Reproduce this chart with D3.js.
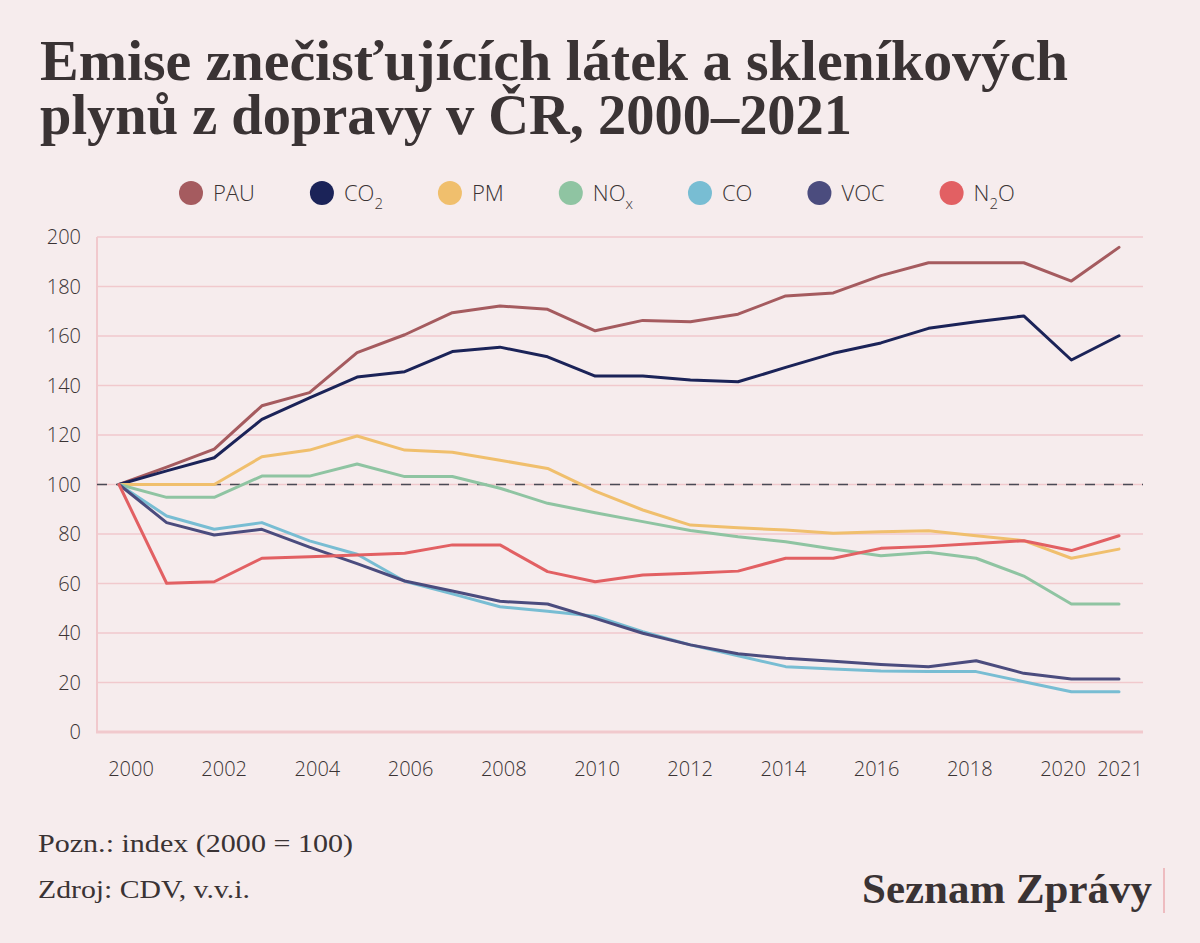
<!DOCTYPE html>
<html>
<head>
<meta charset="utf-8">
<script src="https://cdn.jsdelivr.net/npm/d3@7"></script>
<style>
  html, body { margin: 0; padding: 0; background: #f6eced; }
  svg { display: block; }
</style>
</head>
<body>
<svg id="chart" width="1200" height="943"></svg>
<script>
const years = [2000,2001,2002,2003,2004,2005,2006,2007,2008,2009,2010,2011,2012,2013,2014,2015,2016,2017,2018,2019,2020,2021];
const tickYears = [2000,2002,2004,2006,2008,2010,2012,2014,2016,2018,2020,2021];
const yTicks = [0,20,40,60,80,100,120,140,160,180,200];

const seriesNames = ["PAU","CO2","PM","NOx","CO","VOC","N2O"];
const seriesColors = ["#a55b5f","#1b2358","#f0bf6d","#8fc4a2","#78bdd3","#4b4c7e","#e26063"];

const PAU = [100,107,114.3,131.8,137.1,153.3,160.5,169.4,172.1,170.8,162.1,166.3,165.8,168.8,176.2,177.4,184.4,189.6,189.6,189.6,182.2,195.8];
const CO2 = [100,105.5,110.8,126.3,135,143.4,145.6,153.7,155.5,151.6,143.8,143.8,142.2,141.5,147.3,153,157.2,163.1,165.8,168.1,150.3,160.1];
const PM  = [100,100,100,111.2,113.9,119.6,113.9,113,109.8,106.5,97.3,89.7,83.6,82.5,81.6,80.3,80.9,81.3,79.3,77.3,70.2,73.9];
const NOx = [100,94.8,94.8,103.4,103.4,108.3,103.2,103.2,98.5,92.4,88.6,85,81.4,78.9,76.9,73.9,71.2,72.6,70.2,63,51.7,51.7];
const CO  = [100,87.3,81.9,84.6,77.2,71.8,60.9,55.8,50.6,48.8,46.8,40.5,35.2,30.8,26.4,25.5,24.6,24.4,24.4,20.3,16.3,16.3];
const VOC = [100,84.6,79.6,81.9,74.7,68,61,57,52.8,51.7,45.9,39.9,35.2,31.6,29.8,28.6,27.3,26.4,28.8,23.7,21.4,21.4];
const N2O = [100,60.1,60.7,70.2,70.8,71.5,72.2,75.6,75.6,64.8,60.7,63.4,64.1,65,70.2,70.2,74.2,75,76.2,77.3,73.3,79.3];

const seriesValues = [PAU, CO2, PM, NOx, CO, VOC, N2O];
const legendLabels = [["PAU",""],["CO","2"],["PM",""],["NO","x"],["CO",""],["VOC",""],["N","2","O"]];

const titleLines = ["Emise znečisťujících látek a skleníkových", "plynů z dopravy v ČR, 2000–2021"];
const noteText = "Pozn.: index (2000 = 100)";
const sourceText = "Zdroj: CDV, v.v.i.";
const brandText = "Seznam Zprávy";

const svg = d3.select("#chart");
const W = 1200, H = 943;
svg.append("rect").attr("width", W).attr("height", H).attr("fill", "#f6eced");

const plot = {left: 97, right: 1143, top: 237, bottom: 732};
const x = d3.scaleLinear().domain([2000, 2021]).range([119, 1119]);
const xLabel = d3.scaleLinear().domain([2000, 2020]).range([131, 1063]);
const y = d3.scaleLinear().domain([0, 200]).range([plot.bottom, plot.top]);

// Title (one text element, two lines)
const titleWidths = [1028, 812];
const title = svg.append("text")
  .attr("font-family", "'Liberation Serif', 'DejaVu Serif', serif")
  .attr("font-weight", 700)
  .attr("font-size", 57)
  .attr("fill", "#3a3334");
titleLines.forEach((t, i) => {
  title.append("tspan")
    .attr("x", 40).attr("y", 80 + i * 54)
    .attr("textLength", titleWidths[i])
    .attr("lengthAdjust", "spacingAndGlyphs")
    .text(t);
});

// Legend
const legend = svg.append("g").attr("font-family", "'Open Sans', 'Noto Sans', sans-serif")
  .attr("font-size", 22).attr("fill", "#3a3334");
let lx = 179;
const ly = 193;
seriesNames.forEach((name, i) => {
  const g = legend.append("g");
  g.append("circle").attr("cx", lx + 12).attr("cy", ly).attr("r", 12).attr("fill", seriesColors[i]);
  const txt = g.append("text").attr("x", lx + 34).attr("y", ly + 8).attr("font-weight", 300);
  const parts = legendLabels[i];
  txt.append("tspan").text(parts[0]);
  if (parts[1]) {
    txt.append("tspan").attr("font-size", 15).attr("dy", 8).text(parts[1]);
  }
  if (parts[2]) {
    txt.append("tspan").attr("dy", -8).text(parts[2]);
  }
  const w = txt.node().getComputedTextLength();
  lx = lx + 34 + w + 55;
});

// Gridlines
const grid = svg.append("g");
grid.selectAll("line").data(yTicks.filter(v => v > 0)).join("line")
  .attr("x1", plot.left).attr("x2", plot.right)
  .attr("y1", d => y(d)).attr("y2", d => y(d))
  .attr("stroke", "#f1c9cd").attr("stroke-width", 1.5);

// Axis lines
svg.append("line").attr("x1", plot.left).attr("x2", plot.left)
  .attr("y1", plot.top).attr("y2", plot.bottom)
  .attr("stroke", "#f1c9cd").attr("stroke-width", 2);
svg.append("line").attr("x1", plot.left - 1).attr("x2", plot.right)
  .attr("y1", plot.bottom).attr("y2", plot.bottom)
  .attr("stroke", "#f1c9cd").attr("stroke-width", 3);

// Y tick labels
svg.append("g").selectAll("text").data(yTicks).join("text")
  .attr("x", 81).attr("y", d => y(d) + 7)
  .attr("text-anchor", "end")
  .attr("font-family", "'Open Sans', 'Noto Sans', sans-serif")
  .attr("font-weight", 300)
  .attr("font-size", 20).attr("fill", "#3a3334")
  .text(d => d);

// X tick labels
svg.append("g").selectAll("text").data(tickYears).join("text")
  .attr("x", d => d === 2021 ? x(d) + 1 : xLabel(d))
  .attr("y", 776)
  .attr("text-anchor", "middle")
  .attr("font-family", "'Open Sans', 'Noto Sans', sans-serif")
  .attr("font-weight", 300)
  .attr("font-size", 20).attr("fill", "#3a3334")
  .text(d => d);

// Reference dashed line at 100
svg.append("line").attr("x1", plot.left).attr("x2", plot.right)
  .attr("y1", y(100)).attr("y2", y(100))
  .attr("stroke", "#4a4a55").attr("stroke-width", 1.5)
  .attr("stroke-dasharray", "10,9");

// Lines
const line = d3.line().x((d, i) => x(years[i])).y(d => y(d));
const linesG = svg.append("g");
seriesValues.forEach((vals, i) => {
  linesG.append("path")
    .attr("d", line(vals))
    .attr("fill", "none")
    .attr("stroke", seriesColors[i])
    .attr("stroke-width", 3)
    .attr("stroke-linejoin", "round")
    .attr("stroke-linecap", "round");
});

// Footer
const footFont = "'Liberation Serif', 'DejaVu Serif', serif";
svg.append("text").attr("x", 38).attr("y", 852)
  .attr("font-family", footFont).attr("font-size", 25).attr("fill", "#3a3334")
  .attr("textLength", 315).attr("lengthAdjust", "spacingAndGlyphs")
  .text(noteText);
svg.append("text").attr("x", 38).attr("y", 898)
  .attr("font-family", footFont).attr("font-size", 25).attr("fill", "#3a3334")
  .attr("textLength", 212).attr("lengthAdjust", "spacingAndGlyphs")
  .text(sourceText);
svg.append("text").attr("x", 862).attr("y", 903)
  .attr("font-family", footFont).attr("font-weight", 700)
  .attr("font-size", 42).attr("fill", "#3a3334")
  .attr("textLength", 290).attr("lengthAdjust", "spacingAndGlyphs")
  .text(brandText);
svg.append("line").attr("x1", 1164).attr("x2", 1164).attr("y1", 868).attr("y2", 913)
  .attr("stroke", "#eebcc0").attr("stroke-width", 2);
</script>
</body>
</html>
